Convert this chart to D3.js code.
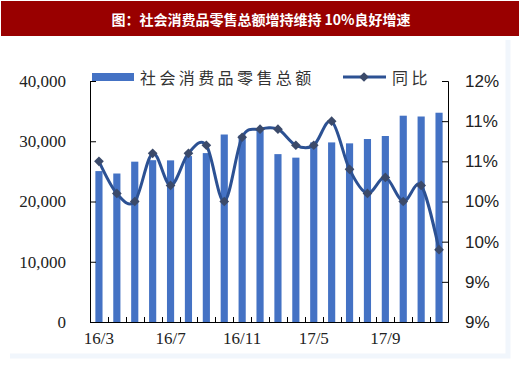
<!DOCTYPE html>
<html>
<head>
<meta charset="utf-8">
<script src="https://cdn.jsdelivr.net/npm/d3@7"></script>
<style>
	html, body { margin: 0; padding: 0; background: #fff; }
	svg { display: block; }
</style>
</head>
<body>
<div id="chart"></div>
<script>
(function() {
	"use strict";

	// 데이터
	var categories = ["16/3","16/4","16/5","16/6","16/7","16/8","16/9","16/10","16/11","16/12",
		"17/3","17/4","17/5","17/6","17/7","17/8","17/9","17/10","17/11","17/12"];
	var salesValues = [25047, 24646, 26611, 26857, 26827, 27539, 28033, 31119, 30959, 31757,
		27864, 27278, 29805, 29808, 29650, 30370, 30870, 34240, 34108, 34734];
	var yoyValues = [10.5, 10.1, 10.0, 10.6, 10.2, 10.6, 10.7, 10.0, 10.8, 10.9,
		10.9, 10.7, 10.7, 11.0, 10.4, 10.1, 10.3, 10.0, 10.2, 9.4];
	var leftTicks = [0, 10000, 20000, 30000, 40000];
	var rightTicks = [8.5, 9, 9.5, 10, 10.5, 11, 11.5];
	var rightTickLabels = ["9%", "9%", "10%", "10%", "11%", "11%", "12%"];
	var xTickLabels = ["16/3", "16/7", "16/11", "17/5", "17/9"];
	var titleText = "图：社会消费品零售总额增持维持 10%良好增速";
	var seriesNames = ["社会消费品零售总额", "同比"];

	var W = 520, H = 369;
	var plot = { left: 90, right: 448, top: 81, bottom: 322 };
	var barColor = "#4472c4";
	var lineColor = "#2c5193";
	var markColor = "#3b4a6a";

	var svg = d3.select("#chart").append("svg")
		.attr("width", W)
		.attr("height", H);

	// 바깥 옅은 테두리
	svg.append("path")
		.attr("d", "M508,40 V356 H10")
		.attr("fill", "none")
		.attr("stroke", "#f1f6fc")
		.attr("stroke-width", 5);

	// 타이틀 배너
	svg.append("rect")
		.attr("x", 1).attr("y", 1)
		.attr("width", W - 2).attr("height", 35)
		.attr("fill", "#990000");
	svg.append("text")
		.attr("x", 261).attr("y", 19)
		.attr("text-anchor", "middle")
		.attr("dominant-baseline", "central")
		.attr("fill", "#fff")
		.style("font-family", "'Noto Sans CJK SC', sans-serif")
		.style("font-weight", "bold")
		.style("font-size", "14px")
		.text(titleText);

	var x = d3.scaleBand()
		.domain(categories)
		.range([plot.left, plot.right])
		.paddingInner(0.6)
		.paddingOuter(0.3);
	var yL = d3.scaleLinear().domain([0, 40000]).range([plot.bottom, plot.top]);
	var yR = d3.scaleLinear().domain([8.5, 11.5]).range([plot.bottom, plot.top]);

	// 막대
	svg.append("g").selectAll("rect")
		.data(salesValues)
		.enter().append("rect")
		.attr("x", function(d, i) { return x(categories[i]); })
		.attr("y", function(d) { return yL(d); })
		.attr("width", x.bandwidth())
		.attr("height", function(d) { return yL(0) - yL(d); })
		.attr("fill", barColor);

	// 왼쪽 축
	var axL = svg.append("g")
		.attr("transform", "translate(" + plot.left + ",0)")
		.call(d3.axisLeft(yL).tickValues(leftTicks).tickSize(-6).tickPadding(24).tickFormat(d3.format(",")));
	axL.selectAll("text")
		.style("font-family", "'Liberation Serif', serif")
		.style("font-size", "17px")
		.attr("fill", "#222");

	// 오른쪽 축
	var axR = svg.append("g")
		.attr("transform", "translate(" + plot.right + ",0)")
		.call(d3.axisRight(yR).tickValues(rightTicks).tickSize(-6).tickPadding(17)
			.tickFormat(function(d, i) { return rightTickLabels[i]; }));
	axR.selectAll("text")
		.style("font-family", "'Liberation Sans', sans-serif")
		.style("font-size", "17px")
		.attr("fill", "#222");

	// 아래 축 (라벨)
	var axB = svg.append("g")
		.attr("transform", "translate(0," + plot.bottom + ")")
		.call(d3.axisBottom(x).tickValues(xTickLabels).tickSize(0).tickPadding(10));
	axB.select(".domain").attr("d", "M" + plot.left + ",0.5H" + plot.right);
	axB.selectAll("text")
		.style("font-family", "'Liberation Serif', serif")
		.style("font-size", "17px")
		.attr("fill", "#222");

	// 카테고리 경계 눈금
	var step = x.step();
	var x0 = x(categories[0]) - step * x.paddingInner() / 2;
	svg.append("g").selectAll("line")
		.data(categories.slice(1))
		.enter().append("line")
		.attr("x1", function(d, i) { return Math.round(x0 + step * (i + 1)) + 0.5; })
		.attr("x2", function(d, i) { return Math.round(x0 + step * (i + 1)) + 0.5; })
		.attr("y1", plot.bottom)
		.attr("y2", plot.bottom - 5)
		.attr("stroke", "#000");

	svg.selectAll(".domain, .tick line").attr("stroke", "#000");

	// 동비 선
	var line = d3.line()
		.x(function(d, i) { return x(categories[i]) + x.bandwidth() / 2; })
		.y(function(d) { return yR(d); })
		.curve(d3.curveCardinal.tension(0));
	svg.append("path")
		.datum(yoyValues)
		.attr("d", line)
		.attr("fill", "none")
		.attr("stroke", lineColor)
		.attr("stroke-width", 3);

	var diamond = d3.symbol().type(d3.symbolDiamond2).size(60);
	svg.append("g").selectAll("path")
		.data(yoyValues)
		.enter().append("path")
		.attr("transform", function(d, i) {
			return "translate(" + (x(categories[i]) + x.bandwidth() / 2) + "," + yR(d) + ")";
		})
		.attr("d", diamond)
		.attr("fill", markColor);

	// 범례
	var lg = svg.append("g");
	lg.append("rect")
		.attr("x", 92).attr("y", 73)
		.attr("width", 42).attr("height", 8)
		.attr("fill", barColor);
	lg.append("text")
		.attr("x", 140).attr("y", 77)
		.attr("dominant-baseline", "central")
		.style("font-family", "'Noto Sans CJK SC', sans-serif")
		.style("font-size", "16px")
		.style("letter-spacing", "3.4px")
		.attr("fill", "#333")
		.text(seriesNames[0]);
	lg.append("line")
		.attr("x1", 343).attr("x2", 386)
		.attr("y1", 77).attr("y2", 77)
		.attr("stroke", lineColor)
		.attr("stroke-width", 3);
	lg.append("path")
		.attr("transform", "translate(364,77)")
		.attr("d", diamond)
		.attr("fill", markColor);
	lg.append("text")
		.attr("x", 392).attr("y", 77)
		.attr("dominant-baseline", "central")
		.style("font-family", "'Noto Sans CJK SC', sans-serif")
		.style("font-size", "16px")
		.style("letter-spacing", "3.4px")
		.attr("fill", "#333")
		.text(seriesNames[1]);
})();
</script>
</body>
</html>
